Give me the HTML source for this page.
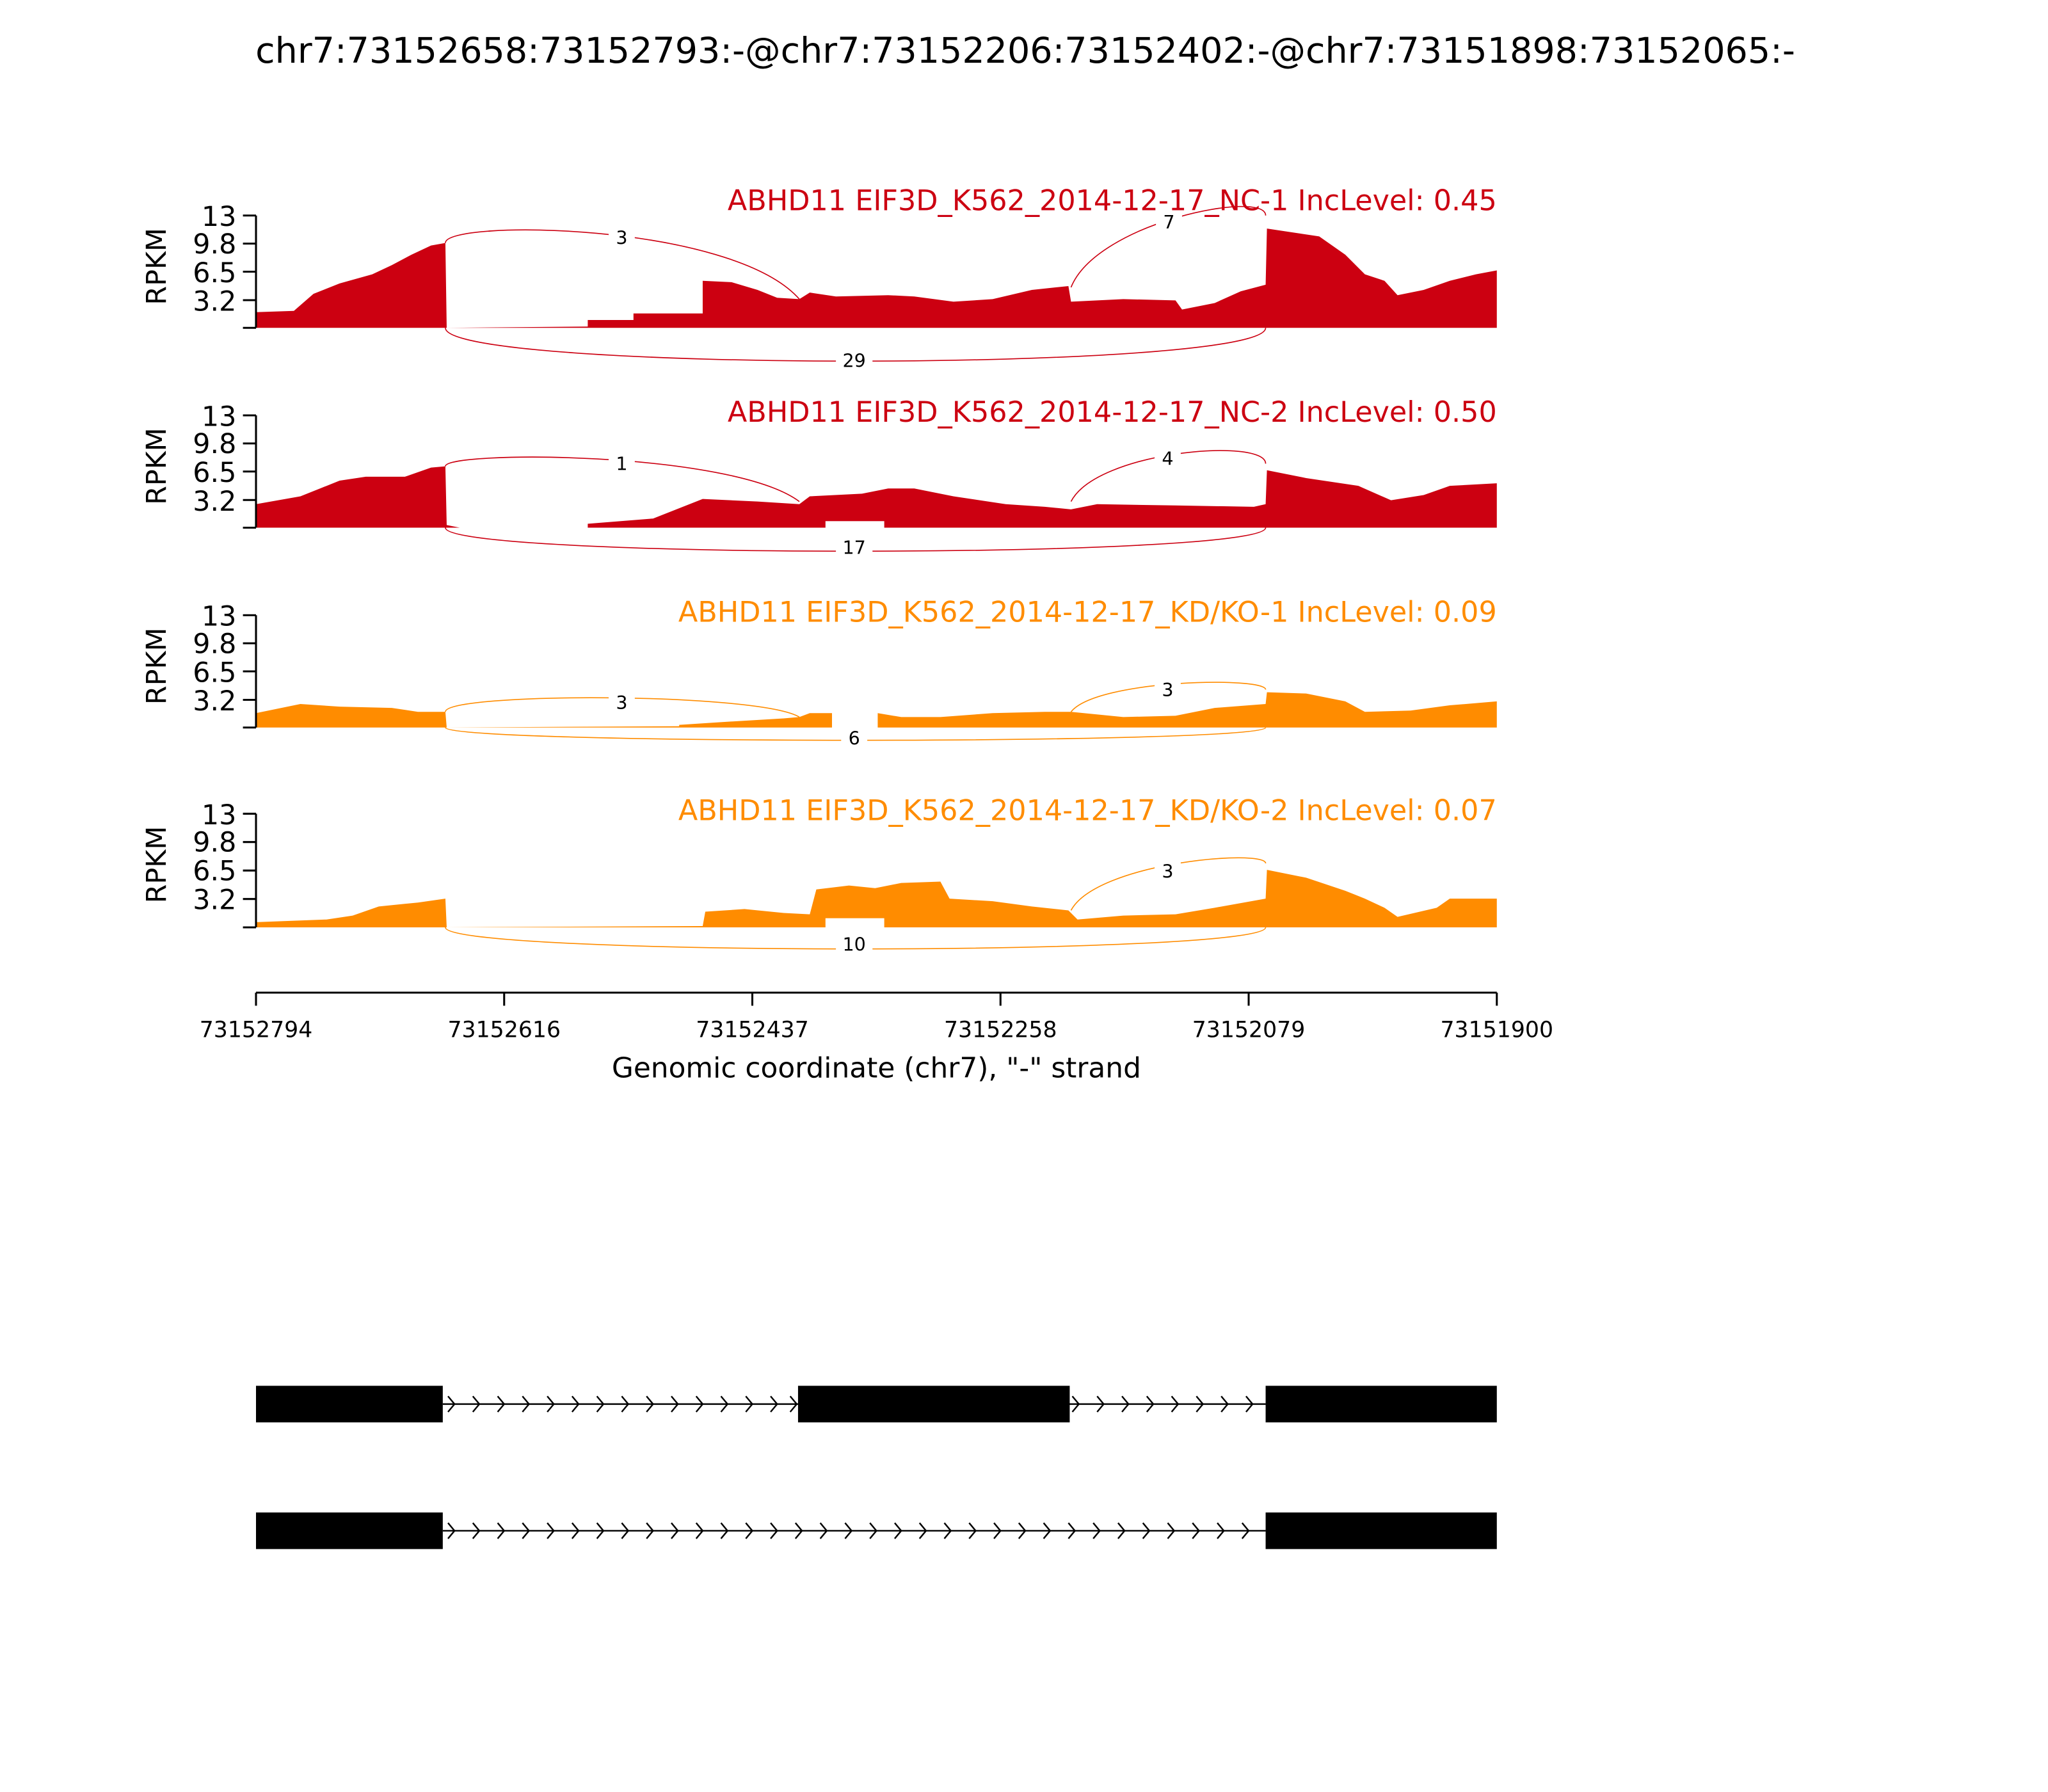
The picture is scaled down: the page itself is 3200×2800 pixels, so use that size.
<!DOCTYPE html>
<html><head><meta charset="utf-8"><style>html,body{margin:0;padding:0;background:#fff}svg{display:block}</style></head>
<body>
<svg width="3200" height="2800" viewBox="0 0 1568 1372" xmlns="http://www.w3.org/2000/svg" font-family="'DejaVu Sans','Liberation Sans',sans-serif">
<rect width="1568" height="1372" fill="#fff"/>
<text x="785" y="48" font-size="27.2" text-anchor="middle">chr7:73152658:73152793:-@chr7:73152206:73152402:-@chr7:73151898:73152065:-</text>

<!-- Panel 1 -->
<polygon fill="#cc0011" points="196,251 196,239 225,238 240,225 260,217 285,210 300,203 315,195 330,188 341,186 342,251 450,250 450,245 485,245 485,240 538,240 538,215 560,216 580,222 595,228 612,229 620,224 640,227 680,226 700,227 730,231 760,229 790,222 818,219 820,231 860,229 900,230 905,237 930,232 950,223 969,218 970,175 990,178 1010,181 1030,195 1045,210 1060,215 1070,226 1090,222 1110,215 1130,210 1146,207 1146,251"/>
<g fill="none" stroke="#cc0011" stroke-width="0.8">
<path d="M341,186 C341,168 560,170 612,229"/>
<path d="M820,220 C840,170 969,145 969,165"/>
<path d="M341,251 C341,285 969,285 969,251"/>
</g>
<g font-size="14" text-anchor="middle">
<rect x="466" y="172" width="20" height="18" fill="#fff"/><text x="476" y="187">3</text>
<rect x="885" y="160" width="20" height="18" fill="#fff"/><text x="895" y="175">7</text>
<rect x="640" y="267" width="28" height="18" fill="#fff"/><text x="654" y="281">29</text>
</g>
<text x="1146" y="161" font-size="21.8" fill="#cc0011" text-anchor="end">ABHD11 EIF3D_K562_2014-12-17_NC-1 IncLevel: 0.45</text>

<!-- Panel 2 -->
<polygon fill="#cc0011" points="196,404 196,386 230,380 260,368 280,365 310,365 330,358 341,357 342,402 352,404 450,404 450,401 500,397 538,382 580,384 612,386 620,380 660,378 680,374 700,374 730,380 770,386 800,388 820,390 840,386 900,387 960,388 969,386 970,360 1000,366 1040,372 1065,383 1090,379 1110,372 1146,370 1146,404"/>
<rect x="632" y="399" width="45" height="6" fill="#fff"/>
<g fill="none" stroke="#cc0011" stroke-width="0.8">
<path d="M341,357 C341,345 560,345 612,384"/>
<path d="M820,384 C840,345 969,335 969,355"/>
<path d="M341,404 C341,428 969,428 969,404"/>
</g>
<g font-size="14" text-anchor="middle">
<rect x="466" y="345" width="20" height="18" fill="#fff"/><text x="476" y="360">1</text>
<rect x="884" y="341" width="20" height="18" fill="#fff"/><text x="894" y="356">4</text>
<rect x="640" y="410" width="28" height="18" fill="#fff"/><text x="654" y="424">17</text>
</g>
<text x="1146" y="323" font-size="21.8" fill="#cc0011" text-anchor="end">ABHD11 EIF3D_K562_2014-12-17_NC-2 IncLevel: 0.50</text>

<!-- Panel 3 -->
<polygon fill="#ff8c00" points="196,557 196,546 230,539 260,541 300,542 320,545 341,545 342,557 520,556 520,555 550,553 600,550 612,549 620,546 637,546 637,557 672,557 672,546 690,549 720,549 760,546 800,545 820,545 860,549 900,548 930,542 969,539 970,530 1000,531 1030,537 1045,545 1080,544 1110,540 1146,537 1146,557"/>
<g fill="none" stroke="#ff8c00" stroke-width="0.8">
<path d="M341,545 C341,530 580,530 612,549"/>
<path d="M820,545 C840,520 969,518 969,528"/>
<path d="M341,557 C341,570 969,570 969,557"/>
</g>
<g font-size="14" text-anchor="middle">
<rect x="466" y="528" width="20" height="18" fill="#fff"/><text x="476" y="543">3</text>
<rect x="884" y="518" width="20" height="18" fill="#fff"/><text x="894" y="533">3</text>
<rect x="644" y="556" width="20" height="18" fill="#fff"/><text x="654" y="570">6</text>
</g>
<text x="1146" y="476" font-size="21.8" fill="#ff8c00" text-anchor="end">ABHD11 EIF3D_K562_2014-12-17_KD/KO-1 IncLevel: 0.09</text>

<!-- Panel 4 -->
<polygon fill="#ff8c00" points="196,710 196,706 250,704 270,701 290,694 320,691 341,688 342,710 538,709 540,698 570,696 600,699 620,700 625,681 650,678 670,680 690,676 720,675 727,688 760,690 790,694 818,697 825,704 860,701 900,700 930,695 969,688 970,666 1000,672 1030,682 1045,688 1060,695 1070,702 1100,695 1110,688 1146,688 1146,710"/>
<rect x="632" y="703" width="45" height="8" fill="#fff"/>
<g fill="none" stroke="#ff8c00" stroke-width="0.8">
<path d="M820,697 C840,660 969,650 969,661"/>
<path d="M341,710 C341,732 969,732 969,710"/>
</g>
<g font-size="14" text-anchor="middle">
<rect x="884" y="658" width="20" height="18" fill="#fff"/><text x="894" y="672">3</text>
<rect x="640" y="714" width="28" height="18" fill="#fff"/><text x="654" y="728">10</text>
</g>
<text x="1146" y="628" font-size="21.8" fill="#ff8c00" text-anchor="end">ABHD11 EIF3D_K562_2014-12-17_KD/KO-2 IncLevel: 0.07</text>

<!-- y axes -->
<g stroke="#000" stroke-width="1.5">
<line x1="196" y1="165" x2="196" y2="251"/><line x1="186" y1="165" x2="196" y2="165"/><line x1="186" y1="186.5" x2="196" y2="186.5"/><line x1="186" y1="208" x2="196" y2="208"/><line x1="186" y1="229.8" x2="196" y2="229.8"/><line x1="186" y1="251" x2="196" y2="251"/>
<line x1="196" y1="318" x2="196" y2="404"/><line x1="186" y1="318" x2="196" y2="318"/><line x1="186" y1="339.5" x2="196" y2="339.5"/><line x1="186" y1="361" x2="196" y2="361"/><line x1="186" y1="382.8" x2="196" y2="382.8"/><line x1="186" y1="404" x2="196" y2="404"/>
<line x1="196" y1="471" x2="196" y2="557"/><line x1="186" y1="471" x2="196" y2="471"/><line x1="186" y1="492.5" x2="196" y2="492.5"/><line x1="186" y1="514" x2="196" y2="514"/><line x1="186" y1="535.8" x2="196" y2="535.8"/><line x1="186" y1="557" x2="196" y2="557"/>
<line x1="196" y1="623" x2="196" y2="710"/><line x1="186" y1="623" x2="196" y2="623"/><line x1="186" y1="644.7" x2="196" y2="644.7"/><line x1="186" y1="666.5" x2="196" y2="666.5"/><line x1="186" y1="688.3" x2="196" y2="688.3"/><line x1="186" y1="710" x2="196" y2="710"/>
</g>
<g font-size="21" text-anchor="end">
<text x="181" y="173">13</text><text x="181" y="194">9.8</text><text x="181" y="216">6.5</text><text x="181" y="238">3.2</text>
<text x="181" y="326">13</text><text x="181" y="347">9.8</text><text x="181" y="369">6.5</text><text x="181" y="391">3.2</text>
<text x="181" y="479">13</text><text x="181" y="500">9.8</text><text x="181" y="522">6.5</text><text x="181" y="544">3.2</text>
<text x="181" y="631">13</text><text x="181" y="652">9.8</text><text x="181" y="674">6.5</text><text x="181" y="696">3.2</text>
</g>
<g font-size="21" text-anchor="middle">
<text transform="translate(127,204) rotate(-90)">RPKM</text>
<text transform="translate(127,357) rotate(-90)">RPKM</text>
<text transform="translate(127,510) rotate(-90)">RPKM</text>
<text transform="translate(127,662) rotate(-90)">RPKM</text>
</g>

<!-- x axis -->
<g stroke="#000" stroke-width="1.5">
<line x1="196" y1="760" x2="1146" y2="760"/>
<line x1="196" y1="760" x2="196" y2="770"/><line x1="386" y1="760" x2="386" y2="770"/><line x1="576" y1="760" x2="576" y2="770"/><line x1="766" y1="760" x2="766" y2="770"/><line x1="956" y1="760" x2="956" y2="770"/><line x1="1146" y1="760" x2="1146" y2="770"/>
</g>
<g font-size="17" text-anchor="middle">
<text x="196" y="794">73152794</text><text x="386" y="794">73152616</text><text x="576" y="794">73152437</text><text x="766" y="794">73152258</text><text x="956" y="794">73152079</text><text x="1146" y="794">73151900</text>
</g>
<text x="671" y="825" font-size="21.5" text-anchor="middle">Genomic coordinate (chr7), "-" strand</text>

<!-- gene models -->
<g stroke="#000" stroke-width="1.2" fill="none">
<line x1="339" y1="1075" x2="969" y2="1075"/>
<line x1="339" y1="1172" x2="969" y2="1172"/>
<path d="M343,1069 L348,1075 L343,1081 M362,1069 L367,1075 L362,1081 M381,1069 L386,1075 L381,1081 M400,1069 L405,1075 L400,1081 M419,1069 L424,1075 L419,1081 M438,1069 L443,1075 L438,1081 M457,1069 L462,1075 L457,1081 M476,1069 L481,1075 L476,1081 M495,1069 L500,1075 L495,1081 M514,1069 L519,1075 L514,1081 M533,1069 L538,1075 L533,1081 M552,1069 L557,1075 L552,1081 M571,1069 L576,1075 L571,1081 M590,1069 L595,1075 L590,1081 M605,1069 L610,1075 L605,1081"/>
<path d="M821,1069 L826,1075 L821,1081 M840,1069 L845,1075 L840,1081 M859,1069 L864,1075 L859,1081 M878,1069 L883,1075 L878,1081 M897,1069 L902,1075 L897,1081 M916,1069 L921,1075 L916,1081 M935,1069 L940,1075 L935,1081 M954,1069 L959,1075 L954,1081"/>
<path d="M343,1166 L348,1172 L343,1178 M362,1166 L367,1172 L362,1178 M381,1166 L386,1172 L381,1178 M400,1166 L405,1172 L400,1178 M419,1166 L424,1172 L419,1178 M438,1166 L443,1172 L438,1178 M457,1166 L462,1172 L457,1178 M476,1166 L481,1172 L476,1178 M495,1166 L500,1172 L495,1178 M514,1166 L519,1172 L514,1178 M533,1166 L538,1172 L533,1178 M552,1166 L557,1172 L552,1178 M571,1166 L576,1172 L571,1178 M590,1166 L595,1172 L590,1178 M609,1166 L614,1172 L609,1178 M628,1166 L633,1172 L628,1178 M647,1166 L652,1172 L647,1178 M666,1166 L671,1172 L666,1178 M685,1166 L690,1172 L685,1178 M704,1166 L709,1172 L704,1178 M723,1166 L728,1172 L723,1178 M742,1166 L747,1172 L742,1178 M761,1166 L766,1172 L761,1178 M780,1166 L785,1172 L780,1178 M799,1166 L804,1172 L799,1178 M818,1166 L823,1172 L818,1178 M837,1166 L842,1172 L837,1178 M856,1166 L861,1172 L856,1178 M875,1166 L880,1172 L875,1178 M894,1166 L899,1172 L894,1178 M913,1166 L918,1172 L913,1178 M932,1166 L937,1172 L932,1178 M951,1166 L956,1172 L951,1178"/>
</g>
<g fill="#000">
<rect x="196" y="1061" width="143" height="28"/><rect x="611" y="1061" width="208" height="28"/><rect x="969" y="1061" width="177" height="28"/>
<rect x="196" y="1158" width="143" height="28"/><rect x="969" y="1158" width="177" height="28"/>
</g>
</svg>
</body></html>
